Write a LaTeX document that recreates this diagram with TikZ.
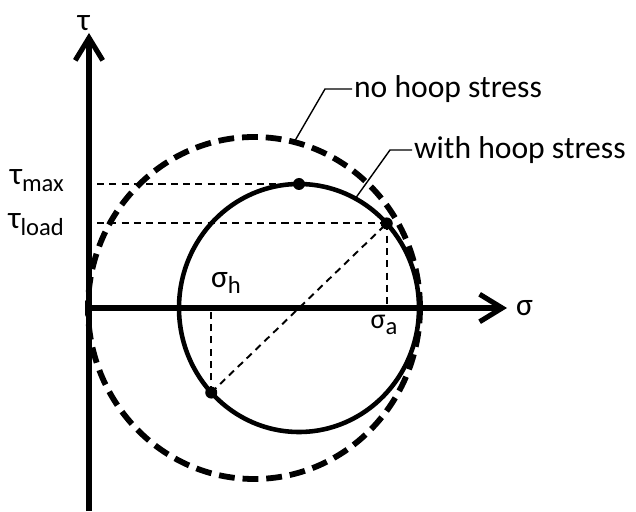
\documentclass[tikz,border=0pt]{standalone}
\usepackage{fontspec}
\setmainfont{Carlito}
\usetikzlibrary{arrows.meta,calc}
\newcommand{\lowsub}[1]{\raisebox{-0.45ex}{\fontsize{14}{14}\selectfont #1}}

\begin{document}
\begin{tikzpicture}[x=0.02cm,y=0.02cm,
  lbl/.style={font=\fontsize{18}{20}\selectfont, inner sep=1pt},
  axis/.style={line width=2.9pt, -{Straight Barb[length=4.5mm,width=5.5mm]}},
  guide/.style={line width=1.1pt, dash pattern=on 4pt off 3pt},
  leader/.style={line width=0.8pt}]
\useasboundingbox (0,0) rectangle (636,511);
% axes
\coordinate (O) at (89,203);
\coordinate (ybot) at (89,0);
\coordinate (ytop) at (89,478);
\coordinate (xend) at (507,203);
\draw[axis] (O) -- (xend);
\draw[axis] (ybot) -- (ytop);
\node[lbl, anchor=south] (tau) at ([xshift=-3]ytop) {τ};
\node[lbl, anchor=west] (sigma) at ([xshift=4]xend) {σ};
% circles
\coordinate (C1) at (254,203);
\coordinate (C2) at (299,203);
\draw[line width=3.3pt, dash pattern=on 9pt off 4.5pt] (C1) ellipse (166 and 171);
\draw[line width=2.6pt] (C2) ellipse (120 and 124);
% points on the stressed circle
\coordinate (T) at ($(C2)+(90:120 and 124)$);
\coordinate (P) at ($(C2)+(43:120 and 124)$);
\coordinate (Q) at ($(C2)+(223:120 and 124)$);
\coordinate (Pa) at (P |- O);
\coordinate (Qh) at (Q |- O);
\coordinate (Tm) at (97,0 |- T);
\coordinate (Tl) at (97,0 |- P);
\draw[guide] (Tm) -- (T);
\draw[guide] (Tl) -- (P);
\draw[guide] (P) -- (Pa);
\draw[guide] (Q) -- (Qh);
\draw[guide] (Q) -- (P);
\foreach \p in {T,P,Q} { \fill (\p) circle (6); }
\node[lbl, anchor=east] (taumax) at (66,330) {τ\lowsub{max}};
\node[lbl, anchor=east] (tauload) at (66,286) {τ\lowsub{load}};
\node[lbl] (sigh) at (226,228) {σ\lowsub{h}};
\node[lbl, font=\fontsize{16}{18}\selectfont] (siga) at (384,186) {σ\lowsub{a}};
% leaders
\coordinate (n1) at ($(C1)+(76:166 and 171)$);
\coordinate (n2) at ($(C2)+(62:120 and 124)$);
\node[lbl, anchor=west] (nohoop) at (352,422) {no hoop stress};
\node[lbl, anchor=west] (withhoop) at (412,361) {with hoop stress};
\draw[leader] (n1) -- (325,422) -- (nohoop.west);
\draw[leader] (n2) -- (390,361) -- (withhoop.west);
\end{tikzpicture}
\end{document}
